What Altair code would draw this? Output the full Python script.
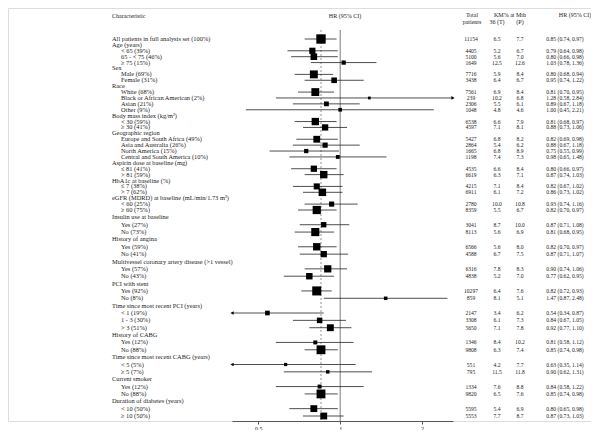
import altair as alt
import pandas as pd

# ---------------- data ----------------
labels = [
    "All patients in full analysis set (100%)", "Age (years)", "< 65 (39%)", "65 - < 75 (46%)", "\u2265 75 (15%)",
    "Sex", "Male (69%)", "Female (31%)",
    "Race", "White (68%)", "Black or African American (2%)", "Asian (21%)", "Other (9%)",
    "Body mass index (kg/m\u00b2)", "< 30 (59%)", "\u2265 30 (41%)",
    "Geographic region", "Europe and South Africa (49%)", "Asia and Australia (26%)", "North America (15%)",
    "Central and South America (10%)",
    "Aspirin dose at baseline (mg)", "\u2264 81 (41%)", "> 81 (59%)",
    "HbA1c at baseline (%)", "\u2264 7 (38%)", "> 7 (62%)",
    "eGFR (MDRD) at baseline (mL/min/1.73 m\u00b2)", "< 60 (25%)", "\u2265 60 (75%)",
    "Insulin use at baseline", "Yes (27%)", "No (73%)",
    "History of angina", "Yes (59%)", "No (41%)",
    "Multivessel coronary artery disease (>1 vessel)", "Yes (57%)", "No (43%)",
    "PCI with stent", "Yes (92%)", "No (8%)",
    "Time since most recent PCI (years)", "< 1 (19%)", "1 - 3 (30%)", "> 3 (51%)",
    "History of CABG", "Yes (12%)", "No (88%)",
    "Time since most recent CABG (years)", "< 5 (5%)", "\u2265 5 (7%)",
    "Current smoker", "Yes (12%)", "No (88%)",
    "Duration of diabetes (years)", "< 10 (50%)", "\u2265 10 (50%)",
]
level = [0, 0, 1, 1, 1, 0, 1, 1, 0, 1, 1, 1, 1, 0, 1, 1, 0, 1, 1, 1, 1, 0, 1, 1, 0, 1, 1, 0, 1, 1,
         0, 1, 1, 0, 1, 1, 0, 1, 1, 0, 1, 1, 0, 1, 1, 1, 0, 1, 1, 0, 1, 1, 0, 1, 1, 0, 1, 1]
N = None
n_total = [11154, N, 4405, 5100, 1649, N, 7716, 3438, N, 7561, 239, 2306, 1048, N, 6538, 4597,
           N, 5427, 2864, 1665, 1198, N, 4535, 6619, N, 4215, 6911, N, 2780, 8359,
           N, 3041, 8113, N, 6566, 4588, N, 6316, 4838, N, 10297, 859, N, 2147, 3308, 5650,
           N, 1346, 9808, N, 551, 795, N, 1334, 9820, N, 5595, 5553]
km_t = ["6.5", N, "5.2", "5.6", "12.5", N, "5.9", "6.4", N, "6.9", "10.2", "5.5", "4.8", N, "6.6", "7.1",
        N, "6.8", "5.4", "6.8", "7.4", N, "6.6", "6.3", N, "7.1", "6.1", N, "10.0", "5.5",
        N, "8.7", "5.6", N, "5.6", "6.7", N, "7.8", "5.2", N, "6.4", "8.1", N, "3.4", "6.1", "7.1",
        N, "8.4", "6.3", N, "4.2", "11.5", N, "7.6", "6.5", N, "5.4", "7.7"]
km_p = ["7.7", N, "6.7", "7.0", "12.6", N, "8.4", "6.7", N, "8.4", "6.8", "6.1", "4.6", N, "7.9", "8.1",
        N, "8.2", "6.2", "8.9", "7.3", N, "8.4", "7.1", N, "8.4", "7.2", N, "10.8", "6.7",
        N, "10.0", "6.9", N, "8.0", "7.5", N, "8.3", "7.0", N, "7.6", "5.1", N, "6.2", "7.3", "7.8",
        N, "10.2", "7.4", N, "7.7", "11.8", N, "8.8", "7.6", N, "6.9", "8.7"]
hr = [0.85, N, 0.79, 0.80, 1.03, N, 0.80, 0.95, N, 0.81, 1.28, 0.89, 1.00, N, 0.81, 0.88,
      N, 0.82, 0.88, 0.75, 0.98, N, 0.80, 0.87, N, 0.82, 0.86, N, 0.93, 0.82,
      N, 0.87, 0.81, N, 0.82, 0.87, N, 0.90, 0.77, N, 0.82, 1.47, N, 0.54, 0.84, 0.92,
      N, 0.81, 0.85, N, 0.63, 0.90, N, 0.84, 0.85, N, 0.80, 0.87]
lo = [0.74, N, 0.64, 0.66, 0.78, N, 0.68, 0.74, N, 0.70, 0.58, 0.67, 0.45, N, 0.68, 0.73,
      N, 0.69, 0.67, 0.55, 0.65, N, 0.66, 0.74, N, 0.67, 0.73, N, 0.74, 0.70,
      N, 0.71, 0.68, N, 0.70, 0.71, N, 0.74, 0.62, N, 0.72, 0.87, N, 0.34, 0.67, 0.77,
      N, 0.58, 0.74, N, 0.35, 0.62, N, 0.58, 0.74, N, 0.65, 0.73]
hi = [0.97, N, 0.98, 0.98, 1.36, N, 0.94, 1.22, N, 0.95, 2.84, 1.18, 2.21, N, 0.97, 1.06,
      N, 0.98, 1.18, 0.99, 1.48, N, 0.97, 1.03, N, 1.02, 1.02, N, 1.16, 0.97,
      N, 1.08, 0.95, N, 0.97, 1.07, N, 1.06, 0.95, N, 0.93, 2.48, N, 0.87, 1.05, 1.10,
      N, 1.12, 0.98, N, 1.14, 1.31, N, 1.22, 0.98, N, 0.98, 1.03]
axis_ticks = [0.5, 1, 2]
overall_hr = 0.85

XMIN, XMAX = 0.40, 2.6

# ---------------- tables ----------------
df = pd.DataFrame({"row": range(len(labels)), "label": labels, "level": level,
                   "n": n_total, "kmt": km_t, "kmp": km_p, "hr": hr, "lo": lo, "hi": hi})
dfd = df[df["hr"].notna()].copy()
dfd["lo_c"] = dfd["lo"].clip(lower=XMIN)
dfd["hi_c"] = dfd["hi"].clip(upper=XMAX)
dfd["hrtxt"] = dfd.apply(lambda r: f"{r.hr:.2f} ({r.lo:.2f}, {r.hi:.2f})", axis=1)
dfd["ntxt"] = dfd["n"].astype(int).astype(str)
left_arrows = dfd[dfd["lo"] < XMIN].assign(edge=XMIN)
right_arrows = dfd[dfd["hi"] > XMAX].assign(edge=XMAX)

FONT = "Liberation Serif"
INK = "#222222"

xs = alt.Scale(type="log", domain=[XMIN, XMAX], range=[224, 445], nice=False, zero=False)
ys = alt.Scale(domain=[0, 29, 57], range=[31, 202, 408], nice=False, zero=False)
xaxis = alt.Axis(values=axis_ticks, format="~g", grid=False, title=None, domainColor="#333",
                 domainWidth=0.8, tickColor="#333", tickWidth=0.8, tickSize=3, labelFont=FONT,
                 labelFontSize=6, labelPadding=1, labelColor=INK)
Y = alt.Y("row:Q", scale=ys, axis=None)

ref1 = alt.Chart(pd.DataFrame({"v": [1.0]})).mark_rule(color="#444", strokeWidth=0.7).encode(
    x=alt.X("v:Q", scale=xs, axis=xaxis), y=alt.value(22), y2=alt.value(413))
ref2 = alt.Chart(pd.DataFrame({"v": [overall_hr]})).mark_rule(
    color="#666", strokeWidth=0.7, strokeDash=[2, 2]).encode(
    x=alt.X("v:Q", scale=xs, axis=xaxis), y=alt.value(22), y2=alt.value(413))

ci = alt.Chart(dfd).mark_rule(color=INK, strokeWidth=0.8).encode(
    x=alt.X("lo_c:Q", scale=xs, axis=xaxis), x2="hi_c:Q", y=Y)
sq = alt.Chart(dfd).mark_square(filled=True, color="black", opacity=1).encode(
    x=alt.X("hr:Q", scale=xs, axis=xaxis), y=Y,
    size=alt.Size("n:Q", scale=alt.Scale(domain=[0, 11154], range=[6, 88]), legend=None))
la = alt.Chart(left_arrows).mark_point(shape="triangle-left", filled=True, color="black",
                                       opacity=1, size=14).encode(
    x=alt.X("edge:Q", scale=xs, axis=xaxis), y=Y)
ra = alt.Chart(right_arrows).mark_point(shape="triangle-right", filled=True, color="black",
                                        opacity=1, size=14).encode(
    x=alt.X("edge:Q", scale=xs, axis=xaxis), y=Y)


def col_text(data, field, xpos, align, size=5.6):
    return alt.Chart(data).mark_text(font=FONT, fontSize=size, align=align, baseline="middle",
                                     color=INK).encode(x=alt.value(xpos), y=Y, text=f"{field}:N")


grp = col_text(df[df["level"] == 0], "label", 104, "left", 6.4)
sub = col_text(df[df["level"] == 1], "label", 113, "left", 6.4)
ncol = col_text(dfd, "ntxt", 463, "center")
tcol = col_text(dfd, "kmt", 489, "center")
pcol = col_text(dfd, "kmp", 512, "center")
hcol = col_text(dfd, "hrtxt", 557, "center")

one = pd.DataFrame({"k": [0]})


def header(txt, xpos, ypos, align="center"):
    return alt.Chart(one).mark_text(text=txt, font=FONT, fontSize=6, align=align, baseline="middle",
                                    color=INK).encode(x=alt.value(xpos), y=alt.value(ypos))


headers = [
    header("Characteristic", 104, 8, "left"),
    header("HR (95% CI)", 337, 8),
    header("Total", 464, 7), header("patients", 464, 14),
    header("KM% at Mth", 502, 7), header("36 (T)", 489, 14), header("(P)", 512, 14),
    header("HR (95% CI)", 567, 7),
]

chart = alt.layer(ref1, ref2, ci, sq, la, ra, grp, sub, ncol, tcol, pcol, hcol, *headers).properties(
    width=583, height=413, padding={"left": 0, "right": 0, "top": 0, "bottom": 9}, autosize="none"
).configure_view(stroke=None).configure(background="white")

chart.save("out.html", embed_options={"renderer": "svg", "actions": False})
